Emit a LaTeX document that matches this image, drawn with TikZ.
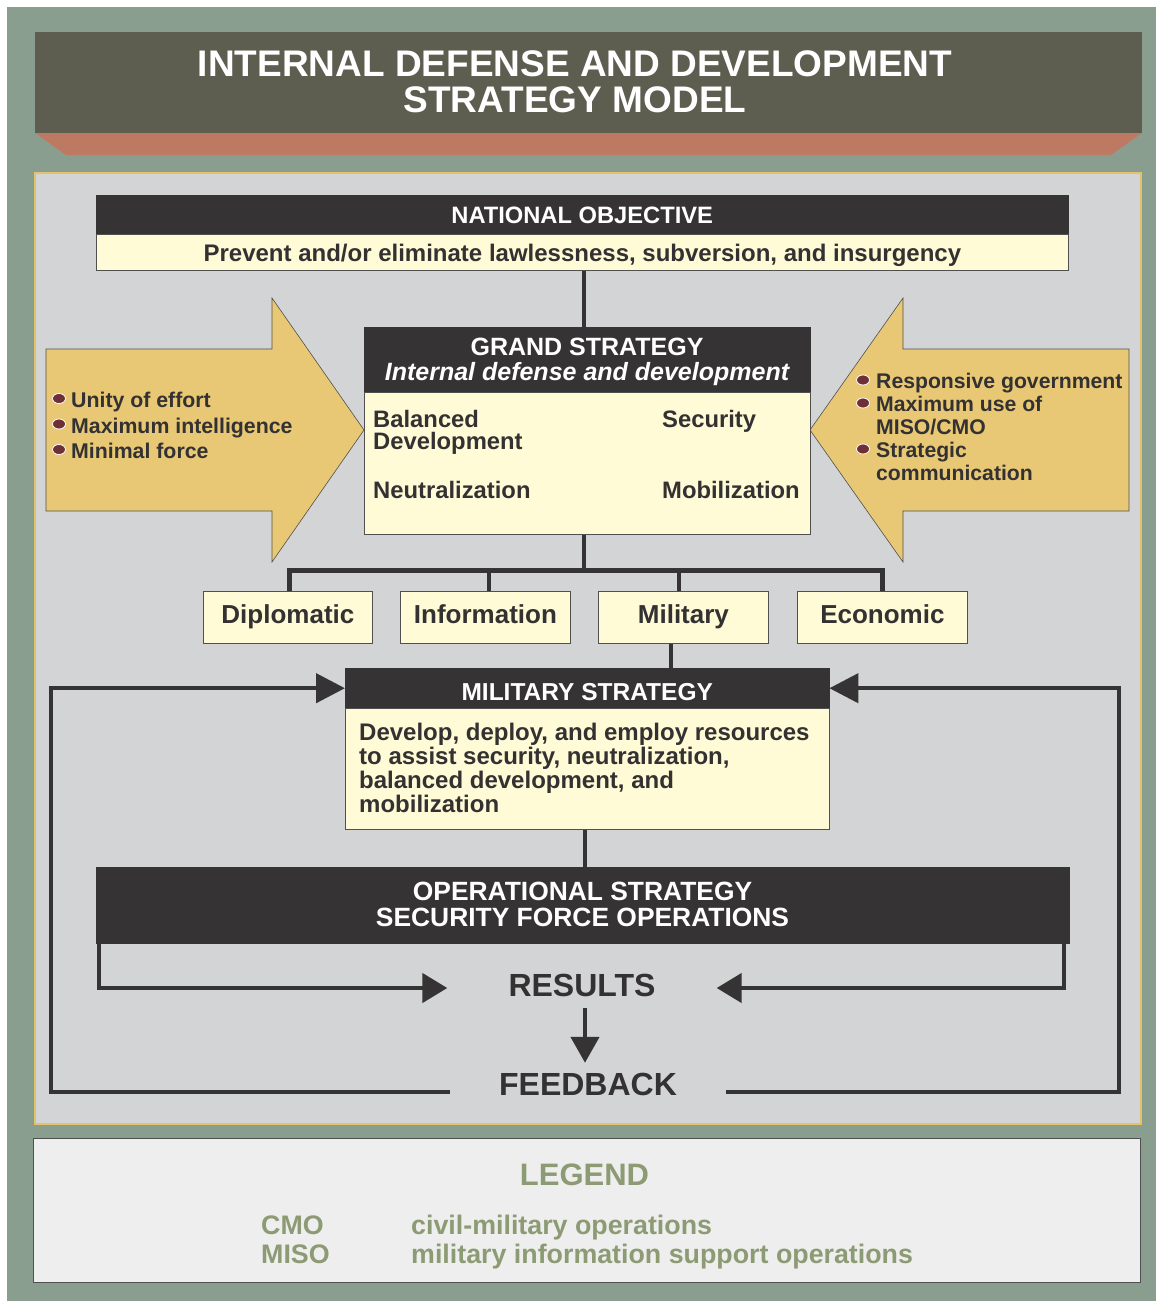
\documentclass[tikz,border=0pt]{standalone}
\usepackage{fontspec}
\setmainfont{Liberation Sans}
\usetikzlibrary{arrows.meta}
\definecolor{bggreen}{HTML}{8A9E8F}
\definecolor{titlebg}{HTML}{5E5E50}
\definecolor{salmon}{HTML}{BE7963}
\definecolor{panelgray}{HTML}{D3D4D6}
\definecolor{panelborder}{HTML}{E2C36A}
\definecolor{creamc}{HTML}{FFFBD6}
\definecolor{hdrdark}{HTML}{353334}
\definecolor{txtdark}{HTML}{333132}
\definecolor{tanc}{HTML}{E8C875}
\definecolor{maroonc}{HTML}{6F2F36}
\definecolor{legfill}{HTML}{EEEEEE}
\definecolor{legtxt}{HTML}{8C9B74}
\definecolor{edgegray}{HTML}{505050}
\newcommand\fz[2]{\fontsize{#1}{#2}\selectfont}
\begin{document}
\begin{tikzpicture}[x=1pt,y=-1pt,
  hdr/.style={fill=hdrdark, draw=hdrdark, text=white, inner sep=0pt, anchor=north west},
  creambox/.style={fill=creamc, draw=edgegray, line width=0.8pt, text=txtdark, inner sep=0pt, anchor=north west},
  conn/.style={draw=hdrdark, line width=4.5pt},
  bodytxt/.style={text=txtdark, inner sep=0pt, align=left},
  whitetxt/.style={text=white, inner sep=0pt, align=center},
  bigarrow/.style={fill=tanc, draw=edgegray, line width=0.6pt},
  dot/.style={fill=maroonc, draw=white, line width=0.8pt},
  legtext/.style={text=legtxt, inner sep=0pt},
  tipA/.style={-{Triangle[length=29pt,width=29pt]}},
  tipB/.style={-{Triangle[length=25pt,width=29pt]}},
  tipC/.style={-{Triangle[length=26pt,width=28pt]}},
  bigtxt/.style={text=txtdark, font=\bfseries\fz{32}{32}}
]
\useasboundingbox (0,0) rectangle (1156,1301);
\fill[white] (0,0) rectangle (1156,1301);
\fill[bggreen] (7,7) rectangle (1156,1301);

% title
\fill[titlebg] (35,32) rectangle (1142,133);
\fill[salmon] (35,133) -- (1142,133) -- (1111,155) -- (66,155) -- cycle;
\node[whitetxt, anchor=north, font=\bfseries\fz{37}{36}] (title) at (575,50)
  {INTERNAL DEFENSE AND DEVELOPMENT\\STRATEGY MODEL};

% panel
\draw[fill=panelgray, draw=panelborder, line width=1.2pt] (35,173) rectangle (1141,1124);

% coordinates for connectors
\coordinate (xa) at (584,0);
\coordinate (xm) at (671,0);
\coordinate (xo) at (585,0);
\coordinate (xr) at (585,0);
\coordinate (bl) at (289,570);
\coordinate (bi) at (489,570);
\coordinate (bm) at (679,570);
\coordinate (br) at (882,570);
\coordinate (bc) at (584,570);
\coordinate (fy) at (0,1092);
\coordinate (lx) at (51,0);
\coordinate (rx) at (1119,0);
\coordinate (rlx) at (99,0);
\coordinate (rrx) at (1064,0);

% national objective
\node[hdr, minimum width=972pt, minimum height=39pt, font=\bfseries\fz{23.7}{24}, text height=17.2pt, text depth=0pt] (nohead) at (96,195) {NATIONAL OBJECTIVE};
\node[creambox, minimum width=972pt, minimum height=36pt, font=\bfseries\fz{24}{24}, text height=17.6pt, text depth=0pt] (nobody) at (96,234) {Prevent and/or eliminate lawlessness, subversion, and insurgency};

% big arrows
\draw[bigarrow] (46,349) -- (272,349) -- (272,298) -- (364,430) -- (272,562) -- (272,511) -- (46,511) -- cycle;
\draw[bigarrow] (810,430) -- (903,298) -- (903,349) -- (1129,349) -- (1129,511) -- (903,511) -- (903,562) -- cycle;
\path[dot] (59,398.5) ellipse [x radius=6.5pt, y radius=5pt];
\path[dot] (59,424) ellipse [x radius=6.5pt, y radius=5pt];
\path[dot] (59,449.5) ellipse [x radius=6.5pt, y radius=5pt];
\node[bodytxt, anchor=north west, font=\bfseries\fz{21.3}{25.5}] (ltxt) at (71,392) {Unity of effort\\Maximum intelligence\\Minimal force};
\path[dot] (863,380) ellipse [x radius=6.5pt, y radius=5pt];
\path[dot] (863,403) ellipse [x radius=6.5pt, y radius=5pt];
\path[dot] (863,449) ellipse [x radius=6.5pt, y radius=5pt];
\node[bodytxt, anchor=north west, font=\bfseries\fz{21.2}{23}] (rtxt) at (876,373) {Responsive government\\Maximum use of\\MISO/CMO\\Strategic\\communication};

% grand strategy
\node[hdr, minimum width=446pt, minimum height=65pt] (gshead) at (364,327) {};
\node[whitetxt, anchor=north, font=\bfseries\fz{25}{24.5}] (gstitle) at (587,338) {GRAND STRATEGY\\\itshape Internal defense and development};
\node[creambox, minimum width=446pt, minimum height=142pt] (gsbody) at (364,392) {};
\node[bodytxt, anchor=north west, font=\bfseries\fz{23.8}{22.5}] (gsbal) at (373,410) {Balanced\\Development};
\node[bodytxt, anchor=north west, font=\bfseries\fz{23.8}{22.5}] (gssec) at (662,410) {Security};
\node[bodytxt, anchor=north west, font=\bfseries\fz{23.8}{22.5}] (gsneu) at (373,481) {Neutralization};
\node[bodytxt, anchor=north west, font=\bfseries\fz{23.8}{22.5}] (gsmob) at (662,481) {Mobilization};

% instruments
\node[creambox, minimum width=169pt, minimum height=52pt, font=\bfseries\fz{26}{26}, text height=12.2pt, text depth=0pt] (dip) at (203,591) {Diplomatic};
\node[creambox, minimum width=170pt, minimum height=52pt, font=\bfseries\fz{26}{26}, text height=12.2pt, text depth=0pt] (inf) at (400,591) {Information};
\node[creambox, minimum width=170pt, minimum height=52pt, font=\bfseries\fz{26}{26}, text height=12.2pt, text depth=0pt] (mil) at (598,591) {Military};
\node[creambox, minimum width=170pt, minimum height=52pt, font=\bfseries\fz{26}{26}, text height=12.2pt, text depth=0pt] (eco) at (797,591) {Economic};

% military strategy
\node[hdr, minimum width=484pt, minimum height=40pt, font=\bfseries\fz{24.5}{25}, text height=25.4pt, text depth=0pt] (mshead) at (345,668) {MILITARY STRATEGY};
\node[creambox, minimum width=484pt, minimum height=121pt] (msbody) at (345,708) {};
\node[bodytxt, anchor=north west, font=\bfseries\fz{24}{24}] (mstxt) at (359,723) {Develop, deploy, and employ resources\\to assist security, neutralization,\\balanced development, and\\mobilization};

% operational strategy
\node[hdr, minimum width=973pt, minimum height=76pt] (ophead) at (96,867) {};
\node[whitetxt, anchor=north, font=\bfseries\fz{26.4}{26.7}] (optxt) at (582.5,881.5) {OPERATIONAL STRATEGY\\SECURITY FORCE OPERATIONS};

% results / feedback
\node[bigtxt, inner xsep=61pt, inner ysep=6pt, text height=22.6pt, text depth=5pt] (res) at (582,988) {RESULTS};
\node[bigtxt, inner xsep=49pt, inner ysep=10pt, text height=22.6pt, text depth=0pt] (fb) at (588,1084.3) {FEEDBACK};

% connectors
\draw[conn] (nobody.south -| xa) -- (gshead.north -| xa);
\draw[conn] (gsbody.south -| xa) -- (bc);
\draw[conn, line width=5pt] (dip.north -| bl) -- (bl) -- (br) -- (eco.north -| br);
\draw[conn] (bi) -- (inf.north -| bi);
\draw[conn] (bm) -- (mil.north -| bm);
\draw[conn] (mil.south -| xm) -- (mshead.north -| xm);
\draw[conn] (msbody.south -| xo) -- (ophead.north -| xo);
\draw[conn, tipB] (ophead.south -| rlx) -- (rlx |- res.west) -- (res.west);
\draw[conn, tipB] (ophead.south -| rrx) -- (rrx |- res.east) -- (res.east);
\draw[conn, tipC] (res.south -| xr) -- (fb.north -| xr);
\draw[conn, tipA] (fb.west |- fy) -- (lx |- fy) -- (lx |- mshead.west) -- (mshead.west);
\draw[conn, tipA] (fb.east |- fy) -- (rx |- fy) -- (rx |- mshead.east) -- (mshead.east);

% legend
\node[fill=legfill, draw=edgegray, line width=1pt, minimum width=1107pt, minimum height=144pt, anchor=north west, inner sep=0pt] (legbox) at (33,1138) {};
\node[legtext, anchor=base, font=\bfseries\fz{31}{31}] (legt) at (584.5,1185) {LEGEND};
\node[legtext, anchor=base west, font=\bfseries\fz{26.8}{27}] (cmo) at (261,1234) {CMO};
\node[legtext, anchor=base west, font=\bfseries\fz{26.8}{27}] (cmod) at (411,1234) {civil-military operations};
\node[legtext, anchor=base west, font=\bfseries\fz{26.8}{27}] (miso) at (261,1263) {MISO};
\node[legtext, anchor=base west, font=\bfseries\fz{26.8}{27}] (misod) at (411,1263) {military information support operations};
\end{tikzpicture}
\end{document}
